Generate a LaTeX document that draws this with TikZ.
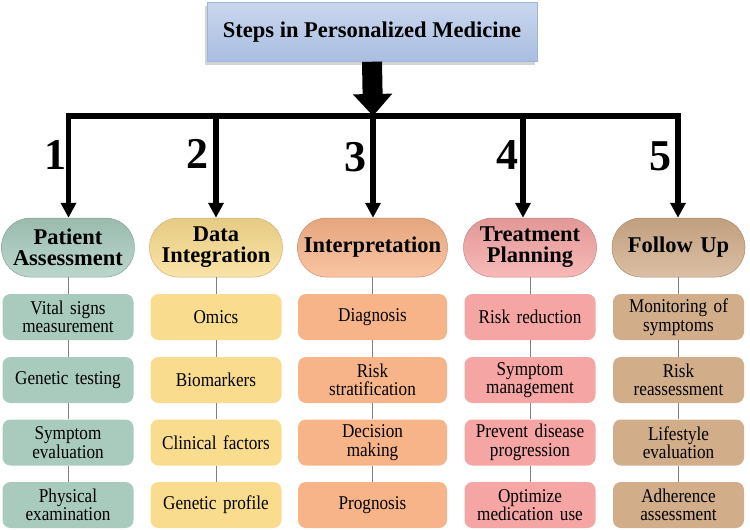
\documentclass[tikz,border=0pt]{standalone}
\usepackage{fontspec}
\setmainfont{Liberation Serif}
\newfontfamily\narrowserif[FakeStretch=0.88]{Liberation Serif}
\usetikzlibrary{arrows.meta,shadows}

\begin{document}
\begin{tikzpicture}[x=1pt,y=-1pt,
    headbox/.style={rectangle, minimum width=330pt, minimum height=59pt, inner sep=0pt,
      top color=r201g214b238, bottom color=r170g190b225, draw=r160g180b218, line width=0.5pt,
      drop shadow={shadow xshift=-2pt, shadow yshift=-3pt, opacity=0.35},
      font=\fontsize{22.5}{26}\selectfont\bfseries},
    capsule/.style={rectangle, rounded corners=29pt, minimum width=133pt, minimum height=59pt,
      inner sep=0pt, text width=131pt, align=center,
      top color=#1!92!black, bottom color=#1!78!white, draw=#1!80!black, line width=0.5pt,
      font=\fontsize{22.5}{21}\selectfont\bfseries},
    substep/.style={rectangle, rounded corners=8pt, fill=#1, minimum width=131pt, minimum height=46pt,
      inner sep=0pt, text width=128pt, align=center, font=\narrowserif\fontsize{19.5}{18.5}\selectfont},
    link/.style={draw=gray, line width=0.8pt},
    stem/.style={line width=5.5pt, -{Triangle[width=15pt,length=15pt]}},
    stepnum/.style={font=\fontsize{44}{44}\selectfont\bfseries}]

% Bounding box of the page
\useasboundingbox (0,0) rectangle (750,530);

% Changing colors
\definecolor{r201g214b238}{RGB}{201,214,238}%
\definecolor{r170g190b225}{RGB}{170,190,225}%
\definecolor{r160g180b218}{RGB}{160,180,218}%
\definecolor{r168g203b190}{RGB}{168,203,190}%
\definecolor{r249g220b142}{RGB}{249,220,142}%
\definecolor{r248g180b137}{RGB}{248,180,137}%
\definecolor{r245g165b164}{RGB}{245,165,164}%
\definecolor{r209g173b138}{RGB}{209,173,138}%

% Title box
\node [headbox] (title) at (372,32) {Steps in Personalized Medicine};

% Coordinates on the bar
\coordinate (bar1) at (68.5,116);
\coordinate (bar2) at (216,116);
\coordinate (bar3) at (373,116);
\coordinate (bar4) at (523,116);
\coordinate (bar5) at (678,116);

% Drawing thick arrow and bar
\draw [line width=20pt, -{Triangle[width=38pt,length=22pt]}] (title.south) -- (bar3);
\draw [line width=6pt, line cap=rect] (bar1) -- (bar5);

% Step numbers
\node [stepnum] (n1) at (55.5,155) {1};
\node [stepnum] (n2) at (197.5,154) {2};
\node [stepnum] (n3) at (355,157) {3};
\node [stepnum] (n4) at (507,155) {4};
\node [stepnum] (n5) at (660,156) {5};

% Column 1: Patient Assessment
\node [capsule=r168g203b190] (pa) at (68,247.5) {Patient\\Assessment};
\node [substep=r168g203b190] (pa1) at (68,317) {Vital signs\\measurement};
\node [substep=r168g203b190] (pa2) at (68,380) {Genetic testing};
\node [substep=r168g203b190] (pa3) at (68,442.5) {Symptom\\evaluation};
\node [substep=r168g203b190] (pa4) at (68,505) {Physical\\examination};

% Column 2: Data Integration
\node [capsule=r249g220b142] (di) at (216,247.5) {Data\\Integration};
\node [substep=r249g220b142] (di1) at (216,317) {Omics};
\node [substep=r249g220b142] (di2) at (216,380) {Biomarkers};
\node [substep=r249g220b142] (di3) at (216,442.5) {Clinical factors};
\node [substep=r249g220b142] (di4) at (216,505) {Genetic profile};

% Column 3: Interpretation
\node [capsule=r248g180b137, minimum width=150pt, text width=148pt] (ip) at (372.5,247.5) {Interpretation};
\node [substep=r248g180b137, minimum width=149pt, text width=146pt] (ip1) at (372.5,317) {Diagnosis};
\node [substep=r248g180b137, minimum width=149pt, text width=146pt] (ip2) at (372.5,380) {Risk\\stratification};
\node [substep=r248g180b137, minimum width=149pt, text width=146pt] (ip3) at (372.5,442.5) {Decision\\making};
\node [substep=r248g180b137, minimum width=149pt, text width=146pt] (ip4) at (372.5,505) {Prognosis};

% Column 4: Treatment Planning
\node [capsule=r245g165b164] (tp) at (530,247.5) {Treatment\\Planning};
\node [substep=r245g165b164] (tp1) at (530,317) {Risk reduction};
\node [substep=r245g165b164] (tp2) at (530,380) {Symptom\\management};
\node [substep=r245g165b164] (tp3) at (530,442.5) {Prevent disease\\progression};
\node [substep=r245g165b164] (tp4) at (530,505) {Optimize\\medication use};

% Column 5: Follow Up
\node [capsule=r209g173b138] (fu) at (678.5,247.5) {Follow Up};
\node [substep=r209g173b138] (fu1) at (678.5,317) {Monitoring of\\symptoms};
\node [substep=r209g173b138] (fu2) at (678.5,380) {Risk\\reassessment};
\node [substep=r209g173b138] (fu3) at (678.5,442.5) {Lifestyle\\evaluation};
\node [substep=r209g173b138] (fu4) at (678.5,505) {Adherence\\assessment};

% Drawing arrows from the bar to each step
\draw [stem] (bar1) -- (bar1 |- pa.north);
\draw [stem] (bar2) -- (bar2 |- di.north);
\draw [stem] (bar3) -- (bar3 |- ip.north);
\draw [stem] (bar4) -- (bar4 |- tp.north);
\draw [stem] (bar5) -- (bar5 |- fu.north);

% Drawing thin links in each column
\draw [link] (pa) -- (pa1) -- (pa2) -- (pa3) -- (pa4);
\draw [link] (di) -- (di1) -- (di2) -- (di3) -- (di4);
\draw [link] (ip) -- (ip1) -- (ip2) -- (ip3) -- (ip4);
\draw [link] (tp) -- (tp1) -- (tp2) -- (tp3) -- (tp4);
\draw [link] (fu) -- (fu1) -- (fu2) -- (fu3) -- (fu4);
\end{tikzpicture}
\end{document}
